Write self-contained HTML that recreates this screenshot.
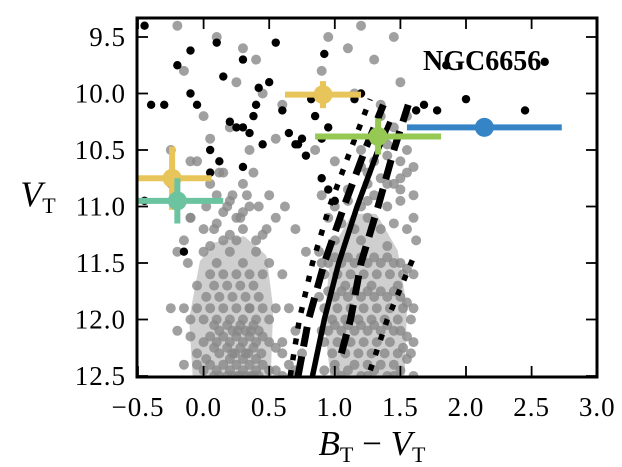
<!DOCTYPE html>
<html><head><meta charset="utf-8"><style>
html,body{margin:0;padding:0;background:#fff;}
svg{display:block;font-family:"Liberation Serif",serif;}
</style></head><body>
<svg id="chart" width="622" height="467" viewBox="0 0 622 467">
<defs><clipPath id="clip"><rect x="137" y="18" width="460" height="359"/></clipPath></defs>
<g id="plot" clip-path="url(#clip)"></g>
<g id="axes"></g>
<text x="38" y="206" font-family="Liberation Serif,serif" font-size="36" font-style="italic" text-anchor="middle">V<tspan font-size="22" font-style="normal" dy="7">T</tspan></text>
<text x="372" y="455" font-family="Liberation Serif,serif" font-size="35" text-anchor="middle"><tspan font-style="italic">B</tspan><tspan font-size="22" dy="7">T</tspan><tspan dy="-7"> − </tspan><tspan font-style="italic">V</tspan><tspan font-size="22" dy="7">T</tspan></text>
</svg>
<script>
// ---- data ----
const xTicks=[-0.5,0,0.5,1.0,1.5,2.0,2.5,3.0];
const xTickLabels=["−0.5","0.0","0.5","1.0","1.5","2.0","2.5","3.0"];
const yTicks=[9.5,10.0,10.5,11.0,11.5,12.0,12.5];
const yTickLabels=["9.5","10.0","10.5","11.0","11.5","12.0","12.5"];
// dense star-cloud outlines (data coords)
const cloudLX=[0.0,0.1,0.3,0.45,0.5,0.48,-0.05,-0.08];
const cloudLV=[11.5,11.35,11.3,11.45,11.9,12.55,12.55,12.0];
const cloudRX=[1.0,1.15,1.3,1.45,1.52,1.5,1.0,0.95];
const cloudRV=[11.4,11.1,11.1,11.4,11.9,12.55,12.55,12.0];
const grayX=[-0.2,-0.15,0.1,0.25,0.3,0.45,0.0,0.05,0.2,0.6,0.35,0.4,-0.1,0.15,0.55,0.95,1.1,1.2,0.9,1.3,1.45,1.5,1.55,1.35,1.15,0.85,1.0,1.25,1.4,
-0.25,-0.05,0.12,0.3,0.5,0.22,0.38,0.05,0.02,0.18,0.28,0.42,0.48,0.08,-0.1,0.33,0.25,0.15,0.55,0.62,0.7,0.78,
-0.2,-0.12,0.0,0.1,0.2,0.3,0.4,0.5,0.05,0.15,0.25,0.35,0.45,-0.05,0.08,0.18,0.28,0.38,0.12,0.22,0.32,0.42,0.02,0.35,0.6,0.65,
-0.25,-0.15,-0.05,0.05,0.1,0.15,0.2,0.25,0.3,0.35,0.4,0.45,0.5,0.55,0.0,0.08,0.18,0.22,0.28,0.32,0.38,0.42,0.12,0.26,0.36,-0.1,0.6,0.7,0.75,
-0.2,-0.1,0.0,0.05,0.1,0.15,0.2,0.25,0.3,0.35,0.4,0.45,0.5,0.55,0.6,0.08,0.18,0.22,0.28,0.32,0.38,0.12,0.24,0.34,0.44,-0.05,0.02,0.3,0.2,0.4,0.65,0.7,
-0.15,-0.05,0.05,0.1,0.15,0.2,0.25,0.3,0.35,0.4,0.45,0.5,0.55,0.0,0.12,0.22,0.28,0.32,0.38,0.18,0.26,0.36,0.42,0.08,0.6,0.68,
0.9,1.0,1.1,1.2,1.3,1.4,1.5,1.6,0.95,1.05,1.15,1.25,1.35,1.45,1.55,1.62,1.0,1.2,1.4,0.88,
0.9,0.95,1.0,1.05,1.1,1.15,1.2,1.25,1.3,1.35,1.4,1.45,1.5,1.55,1.6,0.92,1.02,1.12,1.22,1.32,1.42,1.52,1.08,1.28,1.48,
0.88,0.95,1.0,1.05,1.1,1.15,1.2,1.25,1.3,1.35,1.4,1.45,1.5,1.55,1.6,0.92,1.02,1.12,1.22,1.32,1.42,1.52,0.98,1.18,1.38,1.58,1.08,1.28,1.48,
0.9,0.95,1.0,1.05,1.1,1.15,1.2,1.25,1.3,1.35,1.4,1.45,1.5,1.55,1.6,0.92,1.02,1.12,1.22,1.32,1.42,1.52,0.98,1.18,1.38,1.58,1.08,1.28,1.48,1.0,1.25,1.45,
0.92,1.0,1.05,1.1,1.2,1.3,1.4,1.5,1.6,1.15,1.35,1.55,1.25,1.45,
1.2,1.3,1.4,1.5,1.55,1.35,1.45,1.25,1.5,1.6,1.4,1.3,1.2,1.55,1.1,1.45,1.35,1.5,1.6,1.25,
-0.1,0.0,0.1,0.2,0.3,0.4,0.15,0.25,0.35,-0.15,0.05,0.45,0.2,0.3,0.1];
const grayV=[9.4,9.8,9.5,9.9,9.6,10.0,10.2,10.4,10.3,10.1,10.5,9.7,10.6,10.7,10.4,9.5,9.6,9.4,9.8,9.7,9.5,9.9,10.2,10.1,10.0,10.5,10.6,10.7,10.8,
10.5,10.6,10.7,10.8,10.9,10.9,10.7,10.8,11.0,11.0,11.1,11.0,11.2,11.2,11.1,10.9,11.3,11.3,11.1,11.0,11.2,11.4,
11.4,11.5,11.4,11.5,11.4,11.5,11.4,11.5,11.6,11.6,11.6,11.6,11.6,11.7,11.7,11.7,11.7,11.7,11.8,11.8,11.8,11.8,11.8,11.9,11.6,11.9,
11.9,11.9,11.9,11.9,12.0,11.9,12.0,11.9,12.0,11.9,12.0,11.9,12.0,11.9,12.0,12.05,12.05,12.1,12.05,12.1,12.05,12.1,12.1,12.1,12.1,12.0,12.2,12.1,12.3,
12.1,12.15,12.2,12.15,12.2,12.15,12.2,12.15,12.2,12.15,12.2,12.15,12.2,12.25,12.3,12.25,12.25,12.3,12.25,12.3,12.25,12.3,12.3,12.3,12.3,12.3,12.35,12.35,12.35,12.35,12.4,12.45,
12.4,12.4,12.4,12.45,12.4,12.45,12.4,12.45,12.4,12.45,12.4,12.45,12.45,12.45,12.5,12.5,12.5,12.5,12.5,12.5,12.5,12.5,12.5,12.5,12.5,12.5,
10.9,11.0,10.95,11.0,10.9,11.0,10.95,11.1,11.1,11.15,11.2,11.1,11.2,11.15,11.2,11.3,11.3,11.3,11.35,11.4,
11.5,11.5,11.45,11.5,11.45,11.5,11.45,11.5,11.45,11.5,11.45,11.5,11.5,11.55,11.6,11.6,11.6,11.6,11.6,11.6,11.6,11.6,11.7,11.7,11.7,
11.8,11.75,11.8,11.75,11.8,11.75,11.8,11.75,11.8,11.75,11.8,11.75,11.8,11.85,11.9,11.9,11.9,11.9,11.9,11.9,11.9,11.9,12.0,12.0,12.0,12.0,12.0,12.0,12.0,
12.1,12.1,12.05,12.1,12.05,12.1,12.05,12.1,12.05,12.1,12.05,12.1,12.1,12.15,12.2,12.2,12.2,12.2,12.2,12.2,12.2,12.25,12.3,12.3,12.3,12.3,12.3,12.3,12.3,12.4,12.4,12.4,
12.45,12.45,12.5,12.45,12.5,12.45,12.5,12.45,12.5,12.4,12.4,12.35,12.5,12.5,
10.5,10.6,10.55,10.6,10.7,10.75,10.8,10.8,10.85,10.9,10.45,10.4,10.65,10.5,10.85,10.3,10.2,10.75,10.65,10.95,
11.1,11.2,11.15,11.25,11.2,11.3,11.05,11.1,11.0,11.3,11.35,11.25,10.95,11.05,10.9];
const blackX=[-0.45,-0.2,-0.1,0.1,0.15,0.3,0.42,0.5,0.55,-0.4,-0.3,-0.1,0.2,0.25,0.35,0.4,0.6,0.7,0.75,0.82,-0.05,0.05,0.12,0.3,0.38,0.45,0.65,0.78,0.72,0.9,0.95,-0.25,0.05,0.3,-0.45,-0.15,0.92,1.15,1.2,1.62,1.68,1.78,1.85,2.0,2.45,2.6,0.85,0.9,0.95,1.0];
const blackV=[9.4,9.75,9.62,9.55,9.85,9.7,9.95,9.9,9.55,10.1,10.1,10.0,10.25,10.3,10.35,10.1,10.15,10.45,10.4,10.05,10.1,10.5,10.6,10.3,10.2,10.45,10.35,10.55,10.45,10.4,10.3,10.8,10.7,10.65,10.95,11.4,9.65,10.05,10.0,10.15,10.1,10.15,9.75,10.05,10.15,9.72,10.2,10.75,10.85,10.95];
const solidX=[0.83,0.92,1.03,1.17,1.33,1.42];
const solidV=[12.5,12.0,11.5,11.0,10.5,10.25];
const dashLX=[0.72,0.80,0.92,1.07,1.23,1.37];
const dashLV=[12.5,12.0,11.5,11.0,10.5,10.1];
const dotLX=[0.66,0.73,0.83,0.96,1.12,1.27];
const dotLV=[12.5,12.0,11.5,11.0,10.5,10.05];
const dashRX=[1.05,1.12,1.2,1.33,1.45,1.56];
const dashRV=[12.3,12.0,11.5,11.0,10.5,10.1];
const dotRX=[1.27,1.40,1.60];
const dotRV=[12.45,12.0,11.45];
const errX=[0.91,1.33,2.14,-0.24,-0.2];
const errV=[10.01,10.38,10.3,10.75,10.95];
const errXe=[0.29,0.48,0.59,0.3,0.35];
const errVe=[0.12,0.16,0.07,0.28,0.2];
const errColors=["#e8c55a","#96c854","#3584c6","#e8c55a","#6cc3a0"];

// ---- scales ----
const px=x=>203.6+x*131.2;
const py=v=>37+(v-9.5)*113;
const NS="http://www.w3.org/2000/svg";
const plot=document.getElementById('plot'), axes=document.getElementById('axes');
function mk(tag,attrs,parent){const e=document.createElementNS(NS,tag);for(const k in attrs)e.setAttribute(k,attrs[k]);parent.appendChild(e);return e;}

function cloud(xs,vs,name){
 const d=xs.map((x,i)=>(i?'L':'M')+px(x)+','+py(vs[i])).join('')+'Z';
 const p=mk('path',{d:d,fill:'#8a8a8a',opacity:0.4,stroke:'#8a8a8a','stroke-width':8,'stroke-linejoin':'round'},plot);
 
 
}
cloud(cloudLX,cloudLV,'star-cloud-left');
cloud(cloudRX,cloudRV,'star-cloud-right');
for(let i=0;i<grayX.length;i++){
 const c=mk('circle',{cx:px(grayX[i]),cy:py(grayV[i]),r:5,fill:'#888',opacity:0.8},plot);
 
 
}
for(let i=0;i<blackX.length;i++){
 const c=mk('circle',{cx:px(blackX[i]),cy:py(blackV[i]),r:4.2,fill:'#000'},plot);
 
 
}
function line(xs,vs,dash,w,name){
 const d=xs.map((x,i)=>(i?'L':'M')+px(x)+','+py(vs[i])).join('');
 const p=mk('path',{d:d,fill:'none',stroke:'#000','stroke-width':w,'stroke-dasharray':dash},plot);
 
 
}
line(solidX,solidV,'none',5.5,'isochrone-solid');
line(dashLX,dashLV,'20,10',7,'isochrone-dashed-left');
line(dotLX,dotLV,'6,10',5.5,'isochrone-dotted-left');
line(dashRX,dashRV,'20,10',7,'isochrone-dashed-right');
line(dotRX,dotRV,'6,10',5.5,'isochrone-dotted-right');
for(let i=0;i<errX.length;i++){
 const g=mk('g',{},plot);
 
 
 const cx=px(errX[i]),cy=py(errV[i]);
 mk('line',{x1:px(errX[i]-errXe[i]),x2:px(errX[i]+errXe[i]),y1:cy,y2:cy,stroke:errColors[i],'stroke-width':6},g);
 mk('line',{x1:cx,x2:cx,y1:py(errV[i]-errVe[i]),y2:py(errV[i]+errVe[i]),stroke:errColors[i],'stroke-width':6},g);
 mk('circle',{cx:cx,cy:cy,r:9.5,fill:errColors[i]},g);
}
const lab=mk('text',{x:423,y:70,'font-size':28,fill:'#000','font-weight':'bold'},plot);
lab.textContent='NGC6656';



const fr=mk('rect',{x:137,y:18,width:460,height:359,fill:'none',stroke:'#000','stroke-width':3},axes);


xTicks.forEach((t,i)=>{
 const x=px(t);
 mk('line',{x1:x,x2:x,y1:377,y2:366,stroke:'#000','stroke-width':1.8},axes);
 mk('line',{x1:x,x2:x,y1:18,y2:29,stroke:'#000','stroke-width':1.8},axes);
 const tx=mk('text',{x:x,y:416,'font-size':27,'text-anchor':'middle','letter-spacing':1},axes);
 tx.textContent=xTickLabels[i];
 
 
});
yTicks.forEach((t,i)=>{
 const y=py(t);
 mk('line',{x1:137,x2:148,y1:y,y2:y,stroke:'#000','stroke-width':1.8},axes);
 mk('line',{x1:597,x2:586,y1:y,y2:y,stroke:'#000','stroke-width':1.8},axes);
 const tx=mk('text',{x:126,y:y+9,'font-size':27,'text-anchor':'end','letter-spacing':1},axes);
 tx.textContent=yTickLabels[i];
 
 
});
</script>
</body></html>
